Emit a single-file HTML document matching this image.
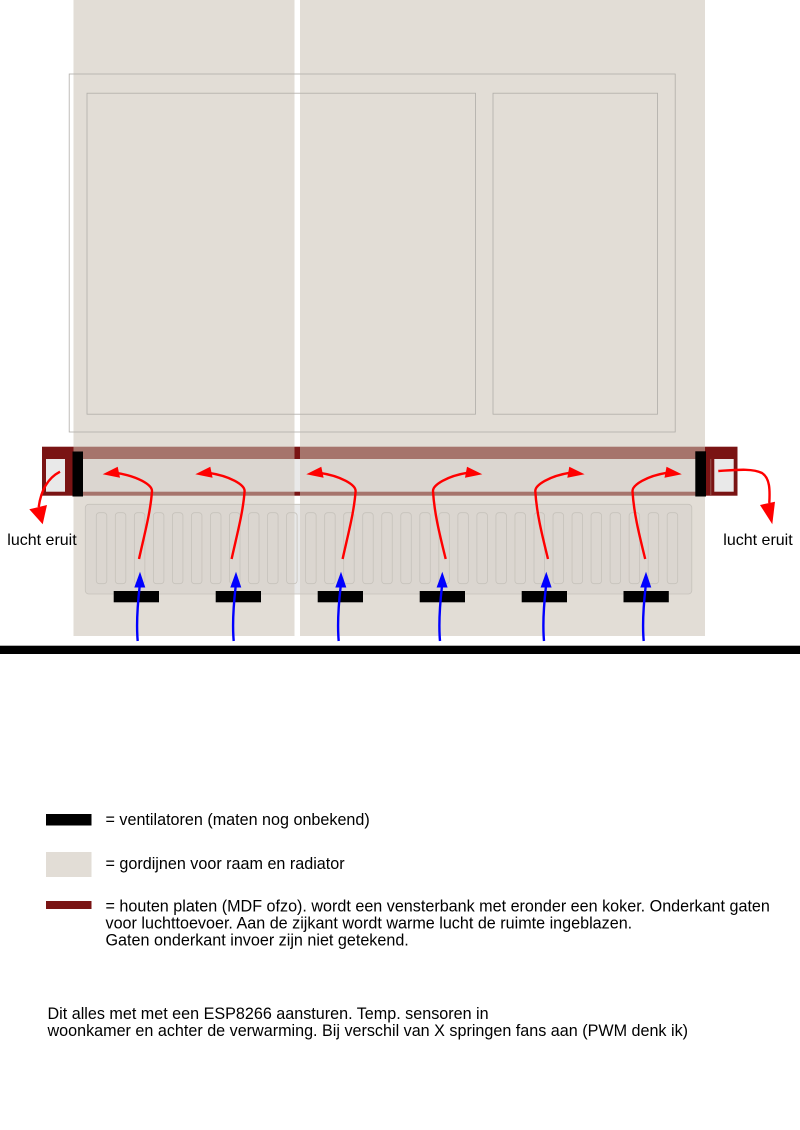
<!DOCTYPE html>
<html><head><meta charset="utf-8"><style>
html,body{margin:0;padding:0;background:#fff}
svg{display:block}
text{font-family:"Liberation Sans",sans-serif;font-size:16.15px;fill:#000}
text.s{font-size:16px}
</style></head><body>
<svg width="800" height="1130" viewBox="0 0 800 1130" xmlns="http://www.w3.org/2000/svg">
<defs>
<g id="ar"><path d="M139 559C145 532 150.500 512 152 491C152 485 138 476 115 472.700" fill="none" stroke="#f00" stroke-width="2.400"/><path d="M102.700 474.300L117.700 466.700L120 477.700Z" fill="#f00"/></g>
<g id="al"><path d="M445.700 559C439 532 434.200 512 433 491C433 485 447 476 468 472.700" fill="none" stroke="#f00" stroke-width="2.400"/><path d="M482.300 474.300L467 466.700L465 477.700Z" fill="#f00"/></g>
<g id="bl"><path d="M137.700 641C136.300 625 137.500 605 139.700 586" fill="none" stroke="#00f" stroke-width="2.400"/><path d="M140 571.700L134.300 587.500L145.300 587.500Z" fill="#00f"/></g>
</defs>
<rect x="73.500" y="0" width="221" height="636" fill="#e2ddd6"/>
<rect x="300" y="0" width="405" height="636" fill="#e2ddd6"/>
<g fill="none" stroke="#b0ada8" stroke-width="0.8">
<rect x="69.200" y="74" width="606" height="358"/>
<rect x="87" y="93.200" width="388.500" height="321"/>
<rect x="493" y="93.200" width="164.500" height="321"/>
</g>
<rect x="73.500" y="459" width="221" height="33" fill="#dbd6d0"/>
<rect x="300" y="459" width="405" height="33" fill="#dbd6d0"/>
<rect x="294.500" y="459" width="5.500" height="33" fill="#e9e9e9"/>
<rect x="73.500" y="446.700" width="221" height="12.300" fill="#a6746c"/>
<rect x="300" y="446.700" width="405" height="12.300" fill="#a6746c"/>
<rect x="294.500" y="446.700" width="5.500" height="12.300" fill="#7a1414"/>
<rect x="73.500" y="491.700" width="221" height="4" fill="#a6746c"/>
<rect x="300" y="491.700" width="405" height="4" fill="#a6746c"/>
<rect x="294.500" y="491.700" width="5.500" height="4" fill="#7a1414"/>
<rect x="85.300" y="504.300" width="606.500" height="89.700" rx="3.500" fill="#dbd6d0"/>
<rect x="294.500" y="504.300" width="5.500" height="89.700" fill="#e9e9e9"/>
<rect x="85.300" y="504.300" width="606.500" height="89.700" rx="3.500" fill="none" stroke="#c6c2bb" stroke-width="0.8"/>
<g fill="none" stroke="#c6c2bb" stroke-width="0.8">
<rect x="96.300" y="512.700" width="10.500" height="71" rx="3"/><rect x="115.330" y="512.700" width="10.500" height="71" rx="3"/><rect x="134.360" y="512.700" width="10.500" height="71" rx="3"/><rect x="153.390" y="512.700" width="10.500" height="71" rx="3"/><rect x="172.420" y="512.700" width="10.500" height="71" rx="3"/><rect x="191.450" y="512.700" width="10.500" height="71" rx="3"/><rect x="210.480" y="512.700" width="10.500" height="71" rx="3"/><rect x="229.510" y="512.700" width="10.500" height="71" rx="3"/><rect x="248.540" y="512.700" width="10.500" height="71" rx="3"/><rect x="267.570" y="512.700" width="10.500" height="71" rx="3"/><rect x="286.600" y="512.700" width="10.500" height="71" rx="3"/><rect x="305.630" y="512.700" width="10.500" height="71" rx="3"/><rect x="324.660" y="512.700" width="10.500" height="71" rx="3"/><rect x="343.690" y="512.700" width="10.500" height="71" rx="3"/><rect x="362.720" y="512.700" width="10.500" height="71" rx="3"/><rect x="381.750" y="512.700" width="10.500" height="71" rx="3"/><rect x="400.780" y="512.700" width="10.500" height="71" rx="3"/><rect x="419.810" y="512.700" width="10.500" height="71" rx="3"/><rect x="438.840" y="512.700" width="10.500" height="71" rx="3"/><rect x="457.870" y="512.700" width="10.500" height="71" rx="3"/><rect x="476.900" y="512.700" width="10.500" height="71" rx="3"/><rect x="495.930" y="512.700" width="10.500" height="71" rx="3"/><rect x="514.960" y="512.700" width="10.500" height="71" rx="3"/><rect x="533.990" y="512.700" width="10.500" height="71" rx="3"/><rect x="553.020" y="512.700" width="10.500" height="71" rx="3"/><rect x="572.050" y="512.700" width="10.500" height="71" rx="3"/><rect x="591.080" y="512.700" width="10.500" height="71" rx="3"/><rect x="610.110" y="512.700" width="10.500" height="71" rx="3"/><rect x="629.140" y="512.700" width="10.500" height="71" rx="3"/><rect x="648.170" y="512.700" width="10.500" height="71" rx="3"/><rect x="667.200" y="512.700" width="10.500" height="71" rx="3"/>
</g>
<rect x="42" y="446.700" width="31.500" height="49" fill="#7a1414"/>
<rect x="46" y="459" width="19" height="32.700" fill="#e9e9e9"/>
<rect x="705" y="446.700" width="32.500" height="49" fill="#7a1414"/>
<rect x="714.300" y="459" width="19.400" height="32.700" fill="#e9e9e9"/>
<rect x="710.500" y="459" width="0.700" height="36" fill="#a6746c"/>
<rect x="72.500" y="451.500" width="10.500" height="45" fill="#000"/>
<rect x="695.300" y="451.300" width="10.700" height="45.200" fill="#000"/>
<g fill="#000">
<rect x="113.700" y="591" width="45.300" height="11.300"/><rect x="215.700" y="591" width="45.300" height="11.300"/><rect x="317.700" y="591" width="45.300" height="11.300"/><rect x="419.700" y="591" width="45.300" height="11.300"/><rect x="521.700" y="591" width="45.300" height="11.300"/><rect x="623.500" y="591" width="45.300" height="11.300"/>
</g>
<rect x="0" y="645.700" width="800" height="8.300" fill="#000"/>
<use href="#ar"/><use href="#ar" x="92.600"/><use href="#ar" x="203.600"/>
<use href="#al"/><use href="#al" x="102.300"/><use href="#al" x="199.500"/>
<use href="#bl"/><use href="#bl" x="96"/><use href="#bl" x="201"/><use href="#bl" x="302.300"/><use href="#bl" x="406.300"/><use href="#bl" x="506"/>
<path d="M60 471.700C48 478 41 490 38.700 507" fill="none" stroke="#f00" stroke-width="2.400"/>
<path d="M42.700 524.300L29.300 509.300L47 505Z" fill="#f00"/>
<path d="M718.300 471C735 470 752 468 762 473C770 478 770 490 769.300 503" fill="none" stroke="#f00" stroke-width="2.400"/>
<path d="M772.300 524.300L760 505L775 501.700Z" fill="#f00"/>
<text class="s" x="7.300" y="545">lucht eruit</text>
<text class="s" x="723.300" y="545">lucht eruit</text>
<rect x="46" y="814" width="45.500" height="11.500" fill="#000"/>
<rect x="46" y="852" width="45.500" height="25" fill="#e2ddd6"/>
<rect x="46" y="901" width="45.500" height="8" fill="#7a1414"/>
<text x="105.500" y="825">= ventilatoren (maten nog onbekend)</text>
<text x="105.500" y="869">= gordijnen voor raam en radiator</text>
<text x="105.500" y="911.500">= houten platen (MDF ofzo). wordt een vensterbank met eronder een koker. Onderkant gaten</text>
<text x="105.500" y="928.500">voor luchttoevoer. Aan de zijkant wordt warme lucht de ruimte ingeblazen.</text>
<text x="105.500" y="945.500">Gaten onderkant invoer zijn niet getekend.</text>
<text x="47.500" y="1019">Dit alles met met een ESP8266 aansturen. Temp. sensoren in</text>
<text x="47.500" y="1036">woonkamer en achter de verwarming. Bij verschil van X springen fans aan (PWM denk ik)</text>
</svg>
</body></html>
